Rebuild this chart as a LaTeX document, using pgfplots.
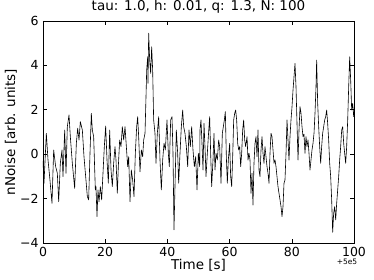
\documentclass[border=0pt]{standalone}
\usepackage{fontspec}
\setmainfont{DejaVu Sans}
\usepackage{pgfplots}
\usepackage{pgfplotstable}
\pgfplotsset{compat=1.18}
\pgfplotstableread{
t v
0.00 -0.30
0.32 -1.31
1.07 0.94
1.61 -0.26
2.14 -1.01
2.89 -2.21
3.43 0.19
4.07 -0.56
4.61 -0.86
5.04 -2.14
5.57 -0.41
6.11 0.19
6.43 -1.01
6.97 1.09
7.40 -0.86
7.82 1.24
8.36 1.77
8.79 0.79
9.43 -0.41
10.18 -1.54
10.72 0.49
11.15 1.17
11.58 0.64
12.00 1.47
12.65 1.09
13.18 -0.11
13.72 -1.01
14.26 -1.91
14.68 -2.06
15.11 0.04
15.54 1.84
15.86 1.09
16.29 0.79
16.83 -1.61
17.04 -1.46
17.36 -2.81
17.68 -1.61
18.01 -2.14
18.44 -1.46
18.86 -2.06
19.29 -0.86
19.72 0.34
20.15 1.27
20.58 -0.26
21.01 -1.31
21.44 1.09
21.87 -0.71
22.29 -1.46
22.72 -0.41
23.15 0.34
23.47 -0.26
23.90 -1.76
24.22 -0.56
24.65 0.64
25.08 0.34
25.51 1.24
25.94 0.64
26.37 1.24
26.80 0.34
27.23 -0.56
27.55 -0.11
27.98 -2.14
28.40 -0.71
28.83 -1.16
29.26 -1.91
29.69 0.04
30.12 1.24
30.44 1.69
30.76 0.79
31.19 -0.79
31.62 0.19
32.05 -0.11
32.37 0.64
32.80 0.94
33.12 2.59
33.34 3.79
33.66 4.39
33.76 3.19
33.98 5.45
34.30 4.24
34.62 3.64
34.94 4.84
35.26 3.79
35.58 1.54
36.01 0.94
36.33 -0.41
36.76 0.94
37.19 1.69
37.62 -0.26
38.05 -1.61
38.48 -0.26
38.91 0.49
39.34 0.19
39.87 1.54
40.30 0.04
40.62 -0.56
41.05 1.54
41.48 1.69
41.80 0.04
42.12 -3.41
42.44 -1.46
42.87 1.09
43.30 0.04
43.62 -1.31
44.05 0.04
44.48 1.24
44.91 1.99
45.23 1.24
45.66 0.94
46.09 0.34
46.52 -0.56
46.95 1.09
47.38 0.34
47.80 1.24
48.23 0.19
48.66 -0.56
49.09 -0.11
49.52 -1.61
49.95 0.04
50.38 -0.56
50.48 1.09
50.80 1.54
51.12 0.49
51.45 -0.71
51.77 1.39
52.09 0.34
52.41 -1.01
52.84 0.04
53.16 0.79
53.59 1.69
53.91 0.04
54.23 -1.46
54.66 -0.26
54.98 0.94
55.31 -0.71
55.63 0.04
56.06 -0.26
56.48 0.64
56.81 0.34
57.24 -1.31
57.66 0.94
57.99 1.24
58.31 1.54
58.63 1.92
58.95 -0.11
59.27 -1.31
59.59 -0.26
60.02 0.49
60.34 -1.01
60.67 -1.46
60.99 -0.11
61.31 1.54
61.63 1.84
61.95 1.99
62.27 1.54
62.60 0.49
62.92 0.19
63.24 0.34
63.56 -0.56
63.88 0.04
64.20 1.09
64.52 1.54
64.85 0.64
65.17 0.34
65.60 0.79
65.92 -0.26
66.24 0.04
66.56 -0.26
66.88 -1.76
67.20 -0.86
67.52 -2.29
67.84 -0.41
68.17 0.49
68.49 0.79
68.81 -0.11
69.13 1.09
69.45 -0.71
69.77 -1.01
70.10 0.19
70.42 0.79
70.74 0.04
71.06 -0.41
71.38 0.34
71.70 -0.11
72.03 -0.56
72.35 -0.86
72.67 -1.31
72.99 0.04
73.31 0.94
73.63 0.79
73.96 0.19
74.28 -0.41
74.60 -0.26
74.92 -0.56
75.24 -1.01
75.56 -1.46
75.88 -1.76
76.21 -2.06
76.53 -2.36
76.85 -2.81
77.17 -2.36
77.49 -1.31
77.81 -1.16
78.14 0.04
78.46 1.54
78.78 0.64
79.10 -0.26
79.42 0.79
79.74 1.54
80.07 2.14
80.39 2.89
80.71 3.49
81.03 4.09
81.35 3.04
81.67 1.39
82.00 -0.26
82.32 1.09
82.64 2.14
82.96 1.84
83.28 1.24
83.60 0.79
83.92 0.90
84.24 0.04
84.56 0.79
84.89 0.34
85.21 0.64
85.53 0.04
85.85 -0.71
86.17 -0.26
86.49 0.19
86.82 0.49
87.14 0.94
87.46 1.84
87.78 3.04
87.99 4.24
88.32 2.29
88.64 1.24
88.96 0.34
89.28 -0.41
89.60 0.34
89.92 0.94
90.25 1.24
90.57 1.54
90.89 1.69
91.21 1.99
91.53 1.39
91.85 0.64
92.18 -0.41
92.50 -1.01
92.82 -2.06
93.14 -3.52
93.46 -2.66
93.78 -2.36
94.11 -2.96
94.43 -2.21
94.75 -1.61
95.07 -1.01
95.39 -0.26
95.71 0.34
96.04 1.09
96.36 1.24
96.68 0.49
97.00 0.04
97.32 -0.41
97.64 0.34
97.97 1.54
98.29 3.04
98.61 4.39
98.93 3.34
99.25 1.99
99.57 2.29
99.90 1.69
100.00 1.90
}\noisedata
\begin{document}
\begin{tikzpicture}
\begin{axis}[
  scale only axis,
  width=311pt, height=222pt,
  xmin=0, xmax=100, ymin=-4, ymax=6,
  xtick={0,20,40,60,80,100},
  ytick={-4,-2,0,2,4,6},
  yticklabels={−4,−2,0,2,4,6},
  /pgf/number format/assume math mode=true,
  tick align=inside,
  major tick length=4pt,
  minor tick num=0,
  axis line style={black, line width=0.8pt},
  every tick/.style={black, line width=0.6pt},
  tick label style={font=\fontsize{12.5}{14}\selectfont},
  xticklabel style={yshift=-1pt},
  yticklabel style={xshift=-1pt},
  label style={font=\fontsize{13.5}{15}\selectfont},
  xlabel={Time [s]},
  ylabel={nNoise [arb. units]},
  xlabel style={at={([yshift=-22pt]axis description cs:0.5,0)}, anchor=center},
  ylabel style={at={([xshift=-32pt]axis description cs:0,0.5)}, anchor=center},
  title={tau: 1.0, h: 0.01, q: 1.3, N: 100},
  title style={font=\fontsize{13.5}{15}\selectfont, at={([yshift=4pt]axis description cs:0.5,1)}, anchor=base},
]
\addplot[black, line width=0.6pt, line join=round, mark=none] table[x=t, y=v] {\noisedata};
\end{axis}
\node[anchor=center, font=\fontsize{7.5}{8}\selectfont] at (304pt,-19pt) {+5e5};
\pgfresetboundingbox
\path[use as bounding box] (-43pt,-37pt) rectangle (331pt,243pt);
\end{tikzpicture}
\end{document}
